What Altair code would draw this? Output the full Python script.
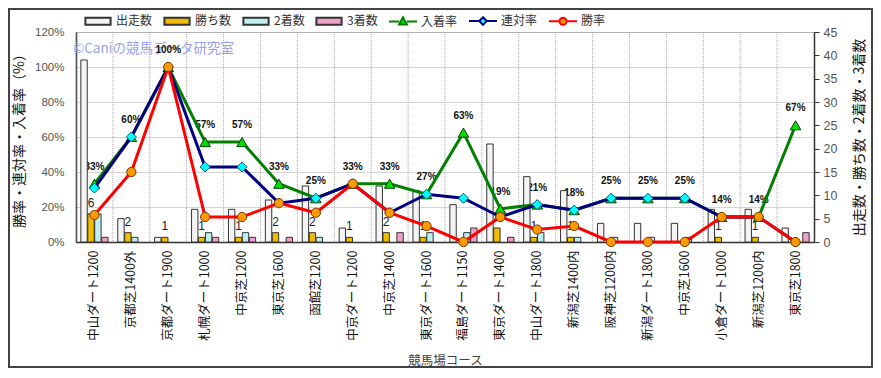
import altair as alt
import pandas as pd

JP = "Noto Sans CJK JP"
NUM = "Liberation Sans"

courses = ["中山ダート1200", "京都芝1400外", "京都ダート1900", "札幌ダート1000", "中京芝1200",
           "東京芝1600", "函館芝1200", "中京ダート1200", "中京芝1400", "東京ダート1600",
           "福島ダート1150", "東京ダート1400", "中山ダート1800", "新潟芝1400内", "阪神芝1200内",
           "新潟ダート1800", "中京芝1600", "小倉ダート1000", "新潟芝1200内", "東京芝1800"]
starts = [39, 5, 1, 7, 7, 9, 12, 3, 12, 11, 8, 21, 14, 11, 4, 4, 4, 7, 7, 3]
wins = [6, 2, 1, 1, 1, 2, 2, 1, 2, 1, 0, 3, 1, 1, 0, 0, 0, 1, 1, 0]
seconds = [6, 1, 0, 2, 2, 0, 1, 0, 0, 2, 2, 0, 2, 1, 1, 1, 1, 0, 0, 0]
thirds = [1, 0, 0, 1, 1, 1, 0, 0, 2, 0, 3, 1, 0, 0, 0, 0, 0, 0, 0, 2]

win_rate = [15.4, 40.0, 100.0, 14.3, 14.3, 22.2, 16.7, 33.3, 16.7, 9.1,
            0.0, 14.3, 7.1, 9.1, 0.0, 0.0, 0.0, 14.3, 14.3, 0.0]
rentai_rate = [30.8, 60.0, 100.0, 42.9, 42.9, 22.2, 25.0, 33.3, 16.7, 27.3,
               25.0, 14.3, 21.4, 18.2, 25.0, 25.0, 25.0, 14.3, 14.3, 0.0]
place_rate = [33.3, 60.0, 100.0, 57.1, 57.1, 33.3, 25.0, 33.3, 33.3, 27.3,
              62.5, 19.0, 21.4, 18.2, 25.0, 25.0, 25.0, 14.3, 14.3, 66.7]
place_labels = ["33%", "60%", "100%", "57%", "57%", "33%", "25%", "33%", "33%", "27%",
                "63%", "19%", "21%", "18%", "25%", "25%", "25%", "14%", "14%", "67%"]

count_series = ["出走数", "勝ち数", "2着数", "3着数"]
rate_series = ["入着率", "連対率", "勝率"]
all_series = count_series + rate_series

# ---- tables ----
bar_rows = []
for i, c in enumerate(courses):
    for s, arr in zip(count_series, [starts, wins, seconds, thirds]):
        if arr[i] > 0:
            bar_rows.append({"course": c, "series": s, "count": arr[i]})
bars_df = pd.DataFrame(bar_rows)

win_lab_df = pd.DataFrame([{"course": c, "series": "勝ち数", "count": w}
                           for c, w in zip(courses, wins) if w > 0])

rate_df = pd.DataFrame({"course": courses, "win": win_rate, "rentai": rentai_rate,
                        "place": place_rate, "label": place_labels})
course_df = pd.DataFrame({"course": courses})
legend_df = pd.DataFrame({"series": all_series})

# ---- scales ----
x_scale = alt.Scale(domain=courses, paddingInner=0, paddingOuter=0)
xoff_scale = alt.Scale(domain=count_series, paddingInner=0.08, paddingOuter=0.7)
rate_scale = alt.Scale(domain=[0, 120], nice=False)
count_scale = alt.Scale(domain=[0, 45], nice=False)

fill_scale = alt.Scale(domain=all_series,
                       range=["#F4F4F4", "#F2BC00", "#BFF0F0", "#F2A0CA",
                              "#00E000", "#00FFFF", "#FF9900"])
stroke_scale = alt.Scale(domain=all_series,
                         range=["#333333", "#333333", "#333333", "#333333",
                                "#008000", "#000080", "#FF0000"])
rect_path = "M-0.9,-0.25H0.9V0.25H-0.9Z"
tri_path = "M-1,0H-0.28M0.28,0H1M0,-0.3L0.28,0.2H-0.28Z"
dia_path = "M-1,0H-0.27M0.27,0H1M0,-0.27L0.27,0L0,0.27L-0.27,0Z"
cir_path = "M-1,0H-0.25M0.25,0H1M0.25,0A0.25,0.25,0,1,1,-0.25,0A0.25,0.25,0,1,1,0.25,0Z"
shape_scale = alt.Scale(domain=all_series,
                        range=[rect_path, rect_path, rect_path, rect_path,
                               tri_path, dia_path, cir_path])

x_axis = alt.Axis(title="競馬場コース", labelAngle=270, labelFont=JP, labelFontSize=12.5,
                  labelColor="#111111", ticks=False, domainColor="#333333", domainWidth=1.5,
                  labelPadding=8, titleFont=JP, titleFontSize=12.5, titleColor="#444444",
                  titleFontWeight="normal", titlePadding=14, grid=False, labelLimit=0)

leg = alt.Legend(orient="none", legendX=7, legendY=-26, direction="horizontal", title=None,
                 symbolSize=784, symbolStrokeWidth=2, labelFont=JP, labelFontSize=12,
                 labelColor="#333333", labelOffset=3, columnPadding=7, padding=0)


def X(**kw):
    return alt.X("course:N", sort=courses, scale=x_scale, axis=x_axis, **kw)


# ---- layers ----
vgrid = alt.Chart(course_df).mark_rule(color="#A8A8A8", strokeDash=[1, 1], strokeWidth=1).encode(
    x=X(bandPosition=0)
)

watermark = alt.Chart(alt.Data(values=[{}])).mark_text(
    text="©Caniの競馬データ研究室", align="left", baseline="middle", font=JP, fontSize=13.5,
    color="#9AA2F0"
).encode(x=alt.value(-3), y=alt.value(17))

place_text = alt.Chart(rate_df).mark_text(
    font=NUM, fontSize=10, fontWeight="bold", color="#111111", baseline="middle", dy=-17
).encode(
    x=X(),
    y=alt.Y("place:Q", scale=rate_scale, axis=None),
    text="label:N",
)

win_text = alt.Chart(win_lab_df).mark_text(
    font=NUM, fontSize=12, color="#222222", baseline="bottom", dy=-4
).encode(
    x=X(),
    xOffset=alt.XOffset("series:N", scale=xoff_scale),
    y=alt.Y("count:Q", scale=count_scale, axis=None),
    text="count:Q",
)

bars = alt.Chart(bars_df).mark_bar(stroke="#333333", strokeWidth=1).encode(
    x=X(),
    xOffset=alt.XOffset("series:N", scale=xoff_scale),
    y=alt.Y("count:Q", scale=count_scale, stack=None,
            axis=alt.Axis(orient="right", values=list(range(0, 46, 5)), grid=False,
                          title="出走数・勝ち数・2着数・3着数", titleAngle=270,
                          titleFont=JP, titleFontSize=14, titleColor="#111111",
                          titleFontWeight="normal", titlePadding=30,
                          labelFont=NUM, labelFontSize=12.5, labelColor="#555555",
                          tickColor="#333333", tickSize=5, labelPadding=4,
                          domainColor="#333333", domainWidth=1.5)),
    fill=alt.Fill("series:N", scale=fill_scale, legend=leg),
)

left_axis = alt.Axis(orient="left", values=list(range(0, 121, 20)),
                     labelExpr="datum.value + '%'", grid=True, gridColor="#A8A8A8",
                     gridDash=[1, 1], gridWidth=1, ticks=False,
                     title="勝率・連対率・入着率（%）", titleFont=JP, titleFontSize=14,
                     titleColor="#111111", titleFontWeight="normal", titlePadding=8,
                     labelFont=NUM, labelFontSize=11.5, labelColor="#555555", labelPadding=12,
                     domainColor="#333333", domainWidth=1.5)


def rate_line(field, color, axis=None):
    return alt.Chart(rate_df).mark_line(color=color, strokeWidth=3).encode(
        x=X(), y=alt.Y(f"{field}:Q", scale=rate_scale, axis=axis)
    )


def rate_points(field, shape, fill, stroke, size):
    return alt.Chart(rate_df).mark_point(shape=shape, filled=True, fill=fill, stroke=stroke,
                                         strokeWidth=1, size=size, opacity=1).encode(
        x=X(), y=alt.Y(f"{field}:Q", scale=rate_scale, axis=None)
    )


line_place = rate_line("place", "#008000", left_axis)
pts_place = rate_points("place", "triangle-up", "#00E000", "#004000", 110)
line_rentai = rate_line("rentai", "#000080")
pts_rentai = rate_points("rentai", "diamond", "#00FFFF", "#006080", 100)
line_win = rate_line("win", "#FF0000")
pts_win = rate_points("win", "circle", "#FF9900", "#7A3A00", 85)

legend_layer = alt.Chart(legend_df).mark_point(filled=True, size=0).encode(
    fill=alt.Fill("series:N", scale=fill_scale, legend=leg),
    stroke=alt.Stroke("series:N", scale=stroke_scale, legend=leg),
    shape=alt.Shape("series:N", scale=shape_scale, legend=leg),
)

frame = alt.Chart(alt.Data(values=[{}])).mark_rect(
    fill="transparent", stroke="#444444", strokeWidth=2
).encode(x=alt.value(-67), x2=alt.value(796), y=alt.value(-23), y2=alt.value(335))

chart = alt.layer(
    vgrid, watermark, place_text, win_text, bars,
    line_place, pts_place, line_rentai, pts_rentai, line_win, pts_win,
    legend_layer, frame
).resolve_scale(y="independent").properties(
    width=738, height=210,
    autosize=alt.AutoSizeParams(type="none"),
    padding={"left": 68, "top": 24, "right": 59, "bottom": 126},
    background="white",
).configure_view(fill="#FBF1DC", stroke="#BBBBBB")

chart.save("out.html", embed_options={"renderer": "svg", "actions": False})
